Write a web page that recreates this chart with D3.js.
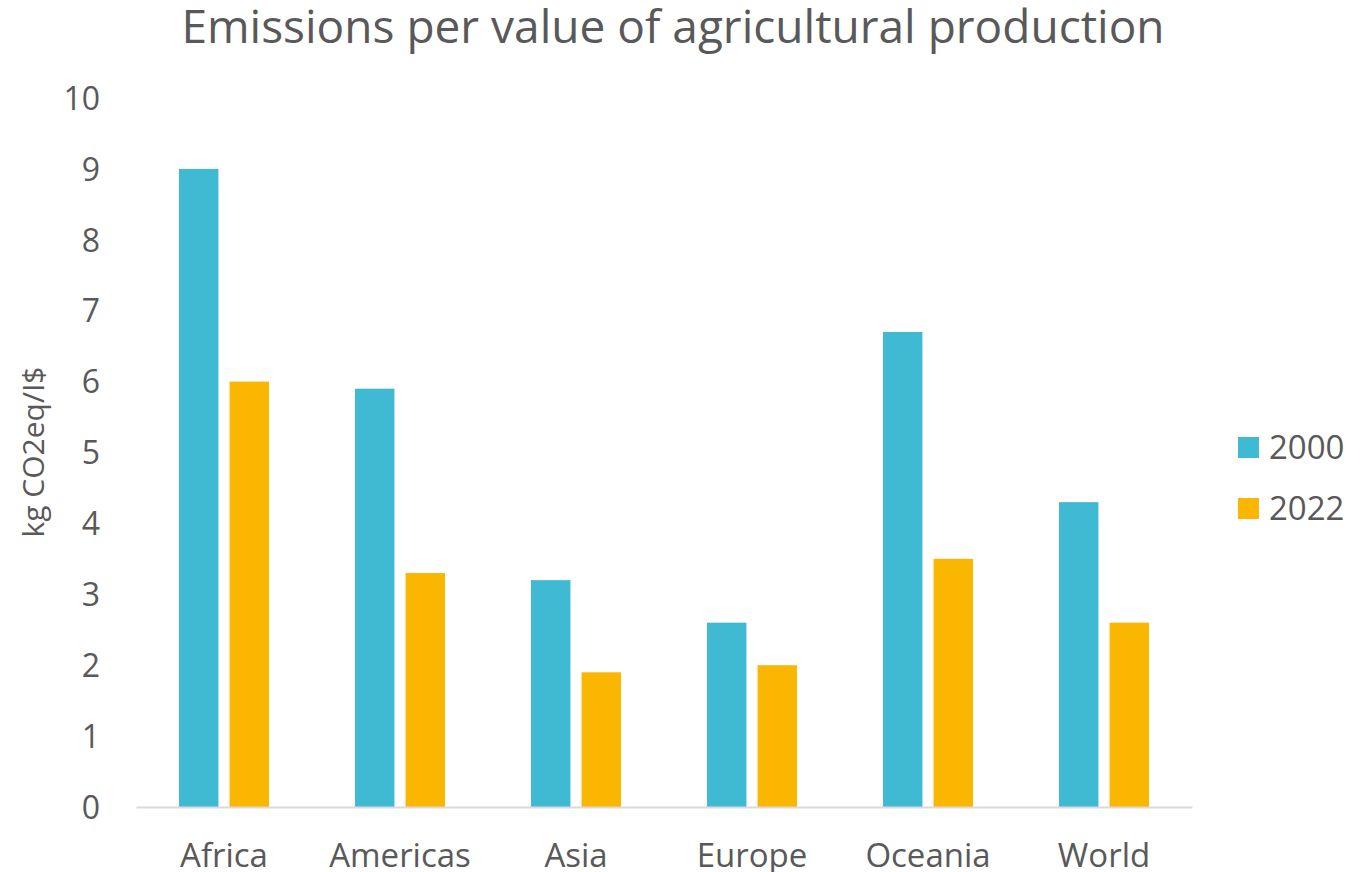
<!DOCTYPE html>
<html>
<head>
<meta charset="utf-8">
<script src="https://cdn.jsdelivr.net/npm/d3@7"></script>
<style>
  body { margin: 0; background: #fff; }
  svg text { font-family: "Open Sans", sans-serif; fill: #595959; }
</style>
</head>
<body>
<svg width="1370" height="872"></svg>
<script>
// chart data
const regions = ["Africa", "Americas", "Asia", "Europe", "Oceania", "World"];
const years = ["2000", "2022"];
const values2000 = [9.0, 5.9, 3.2, 2.6, 6.7, 4.3];
const values2022 = [6.0, 3.3, 1.9, 2.0, 3.5, 2.6];
const yTicks = [0, 1, 2, 3, 4, 5, 6, 7, 8, 9, 10];

const colors = ["#40bad2", "#fab600"];

const svg = d3.select("svg");

const plotLeft = 136, plotRight = 1192, plotTop = 98, plotBottom = 807;

const x = d3.scaleBand()
	.domain(regions)
	.range([plotLeft, plotRight]);

const x1 = d3.scaleBand()
	.domain(years)
	.range([43, 133])
	.paddingInner(0.22);

const y = d3.scaleLinear()
	.domain([0, 10])
	.range([plotBottom, plotTop]);

const series = years.map(function(yr, i) {
	const vals = i === 0 ? values2000 : values2022;
	return regions.map(function(r, j) { return {region: r, year: yr, value: vals[j]}; });
});

// title
svg.append("text")
	.attr("x", 673)
	.attr("y", 43)
	.attr("text-anchor", "middle")
	.style("font-size", "46px")
	.text("Emissions per value of agricultural production");

// y axis labels
const yAxis = d3.axisLeft(y)
	.tickValues(yTicks)
	.tickSize(0)
	.tickPadding(0);

const gy = svg.append("g")
	.attr("transform", "translate(100,0)")
	.call(yAxis);
gy.select(".domain").remove();
gy.selectAll("text")
	.style("font-size", "32px")
	.attr("dy", "0.35em");

svg.append("text")
	.attr("transform", "translate(44,452) rotate(-90)")
	.attr("text-anchor", "middle")
	.style("font-size", "30px")
	.text("kg CO2eq/I$");

// bars
svg.selectAll(".series")
	.data(series)
	.enter().append("g")
	.attr("class", "series")
	.attr("fill", function(d, i) { return colors[i]; })
	.selectAll("rect")
	.data(function(d) { return d; })
	.enter().append("rect")
	.attr("x", function(d) { return x(d.region) + x1(d.year); })
	.attr("y", function(d) { return y(d.value); })
	.attr("width", x1.bandwidth())
	.attr("height", function(d) { return plotBottom - y(d.value); });

// x axis
const xAxis = d3.axisBottom(x)
	.tickSize(0)
	.tickPadding(0);

const gx = svg.append("g")
	.attr("transform", "translate(0," + plotBottom + ")")
	.call(xAxis);
gx.select(".domain")
	.attr("stroke", "#d9d9d9")
	.attr("stroke-width", 2);
gx.selectAll("text")
	.attr("dy", null)
	.attr("y", 60)
	.style("font-size", "33px");

// legend
const legend = svg.append("g")
	.attr("class", "legend")
	.selectAll("g")
	.data(years)
	.enter().append("g")
	.attr("transform", function(d, i) { return "translate(1238," + (437 + i * 61) + ")"; });

legend.append("rect")
	.attr("width", 21)
	.attr("height", 21)
	.attr("fill", function(d, i) { return colors[i]; });

legend.append("text")
	.attr("x", 31)
	.attr("y", 22)
	.style("font-size", "33px")
	.text(function(d) { return d; });
</script>
</body>
</html>
